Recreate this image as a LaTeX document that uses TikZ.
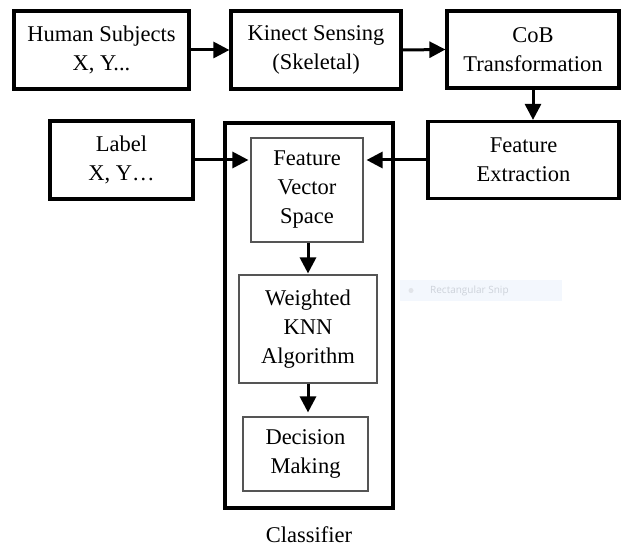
\documentclass[tikz,border=0pt]{standalone}
\usepackage{fontspec}
\setmainfont{Liberation Serif}
\newfontfamily\snipfont{Open Sans}
\usetikzlibrary{arrows.meta}
\definecolor{snipbg}{HTML}{F3F7FD}
\definecolor{snipfg}{HTML}{CDD2DA}
\definecolor{innerline}{HTML}{555555}
\tikzset{
  outerbox/.style={draw=black, line width=3.2pt, align=center, inner sep=0pt,
    font=\fontsize{22.5}{29}\selectfont},
  innerbox/.style={draw=innerline, line width=1.1pt, align=center, inner sep=0pt,
    font=\fontsize{22.5}{29}\selectfont},
  flow/.style={line width=3pt, -{Triangle[length=16pt,width=16pt]}},
}
\begin{document}
\begin{tikzpicture}[x=1pt,y=-1pt]
\useasboundingbox (0,0) rectangle (622,548);
% top row
\node[outerbox, minimum width=175pt, minimum height=78pt] (h) at (101.5,50) {Human Subjects\\X, Y...};
\node[outerbox, minimum width=170pt, minimum height=78pt] (k) at (316,50) {Kinect Sensing\\(Skeletal)};
\node[outerbox, minimum width=172pt, minimum height=77pt] (c) at (533,49.5) {CoB\\Transformation};
% second row
\node[outerbox, minimum width=143pt, minimum height=78pt] (l) at (121.5,160) {Label\\X, Y\ldots};
\node[outerbox, minimum width=191pt, minimum height=77pt] (fe) at (523.5,160) {Feature\\Extraction};
% classifier
\node[draw=black, line width=3.2pt, minimum width=168pt, minimum height=385pt, inner sep=0pt] (cl) at (309,315.5) {};
\node[innerbox, minimum width=112pt, minimum height=104pt] (fvs) at (307,190) {Feature\\Vector\\Space};
\node[innerbox, minimum width=138pt, minimum height=108pt] (w) at (308,329) {Weighted\\KNN\\Algorithm};
\node[innerbox, minimum width=125pt, minimum height=74pt] (d) at (305.5,454) {Decision\\Making};
\node[font=\fontsize{22.5}{29}\selectfont, inner sep=0pt] (cltext) at (309,535) {Classifier};
% snip artifact
\node[fill=snipbg, minimum width=162pt, minimum height=21pt, inner sep=0pt] (snip) at (481,290.5) {};
\fill[snipfg!60] (411,290.5) circle (2.5pt);
\node[anchor=west, text=snipfg, font=\snipfont\fontsize{10}{12}\selectfont, inner sep=0pt] (sniptext) at (430,290.5) {Rectangular Snip};
% connectors
\draw[flow] (h.east) -- (k.west);
\draw[flow] (k.east) -- (c.west);
\draw[flow] (c.south) -- (c.south |- fe.north);
\draw[flow, shorten >=2pt] (l.east) -- (l.east -| fvs.west);
\draw[flow, shorten >=3pt] (fe.west) -- (fe.west -| fvs.east);
\draw[flow, shorten >=1pt] (fvs.south -| w.north) -- (w.north);
\draw[flow, shorten >=4pt] (w.south) -- (w.south |- d.north);
\end{tikzpicture}
\end{document}
